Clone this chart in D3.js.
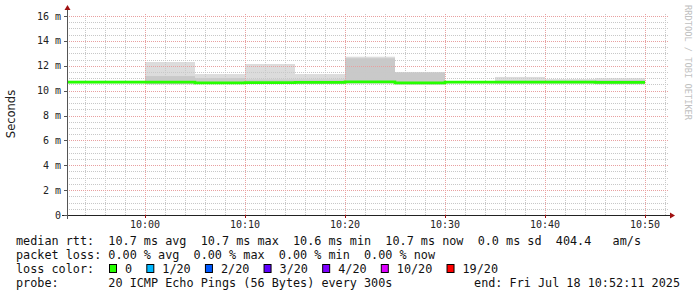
<!DOCTYPE html>
<html lang="en">
<head>
<meta charset="UTF-8">
<title>SmokePing</title>
<script src="https://d3js.org/d3.v7.min.js"></script>
<style>
  body { margin: 0; background: #fff; }
  svg text { font-family: "DejaVu Sans Mono", monospace; }
</style>
</head>
<body>
<div id="chart"></div>
<script>
// ping steps (5 min each), values in ms
const stepStart = ["09:50","09:55","10:00","10:05","10:10","10:15","10:20","10:25","10:30","10:35","10:40","10:45"];
const median    = [10.68, 10.68, 10.68, 10.62, 10.64, 10.66, 10.70, 10.62, 10.68, 10.68, 10.68, 10.66];
const smokeHi   = [10.80, 10.80, 12.30, 11.33, 12.14, 11.33, 12.73, 11.50, 10.75, 11.10, 10.93, 11.00];
const smokeMid  = [10.75, 10.75, 11.17, 11.00, 10.90, 10.90, 12.60, 11.45, 10.72, 10.80, 10.80, 10.85];
const smokeLo   = [10.60, 10.60, 10.52, 10.55, 10.55, 10.55, 10.58, 10.50, 10.60, 10.58, 10.58, 10.52];

const yTicks = [0, 2, 4, 6, 8, 10, 12, 14, 16];

const legendRtt  = "median rtt:  10.7 ms avg  10.7 ms max  10.6 ms min  10.7 ms now  0.0 ms sd  404.4   am/s";
const legendLoss = "packet loss: 0.00 % avg  0.00 % max  0.00 % min  0.00 % now";
const lossLabels = ["0", "1/20", "2/20", "3/20", "4/20", "10/20", "19/20"];
const lossColors = ["#26ff00", "#00b8ff", "#0059ff", "#5e00ff", "#7e00ff", "#dd00ff", "#ff0000"];
const probeText  = "probe:       20 ICMP Echo Pings (56 Bytes) every 300s";
const endText    = "end: Fri Jul 18 10:52:11 2025";

const W = 697, H = 297;
const pLeft = 67, pRight = 667, pTop = 16, pBottom = 215;

const parse = s => { const [h, m] = s.split(":").map(Number); return new Date(2025, 6, 18, h, m, 0); };
const steps = stepStart.map(parse);
const stepEnd = d => new Date(d.getTime() + 5 * 60 * 1000);

const x = d3.scaleTime()
    .domain([new Date(2025, 6, 18, 9, 52, 12), new Date(2025, 6, 18, 10, 52, 12)])
    .range([pLeft, pRight]);
const y = d3.scaleLinear().domain([0, 16]).range([pBottom, pTop]);

const svg = d3.select("#chart").append("svg")
    .attr("width", W).attr("height", H)
    .style("background", "#fff");

svg.append("clipPath").attr("id", "clip")
    .append("rect").attr("x", pLeft).attr("y", pTop).attr("width", pRight - pLeft).attr("height", pBottom - pTop);
const plot = svg.append("g");

// smoke
const smoke = plot.append("g").attr("clip-path", "url(#clip)");
steps.forEach((d, i) => {
    const x0 = x(d), x1 = x(stepEnd(d));
    smoke.append("rect")
        .attr("x", x0).attr("width", x1 - x0)
        .attr("y", y(smokeHi[i])).attr("height", y(smokeLo[i]) - y(smokeHi[i]))
        .attr("fill", "#dcdcdc");
    smoke.append("rect")
        .attr("x", x0).attr("width", x1 - x0)
        .attr("y", y(smokeMid[i])).attr("height", y(smokeLo[i]) - y(smokeMid[i]))
        .attr("fill", "#c9c9c9");
});

// grid
const grid = plot.append("g");
const minorY = d3.range(0, 16.01, 0.5).filter(v => v % 2 !== 0);
grid.selectAll(".hminor").data(minorY).join("line")
    .attr("x1", pLeft).attr("x2", pRight + 1)
    .attr("y1", d => Math.round(y(d)) + 0.5).attr("y2", d => Math.round(y(d)) + 0.5)
    .attr("stroke", "#c8c8c8").attr("stroke-dasharray", "1,1");
const minorX = x.ticks(d3.timeMinute.every(2)).filter(d => d.getMinutes() % 10 !== 0);
grid.selectAll(".vminor").data(minorX).join("line")
    .attr("x1", d => Math.round(x(d)) + 0.5).attr("x2", d => Math.round(x(d)) + 0.5)
    .attr("y1", pTop - 2).attr("y2", pBottom)
    .attr("stroke", "#c8c8c8").attr("stroke-dasharray", "1,1");
grid.selectAll(".hmajor").data(yTicks.slice(1)).join("line")
    .attr("x1", pLeft).attr("x2", pRight + 1)
    .attr("y1", d => Math.round(y(d)) + 0.5).attr("y2", d => Math.round(y(d)) + 0.5)
    .attr("stroke", "#e8a0a0").attr("stroke-dasharray", "1,1");
const majorX = x.ticks(d3.timeMinute.every(10));
grid.selectAll(".vmajor").data(majorX).join("line")
    .attr("x1", d => Math.round(x(d)) + 0.5).attr("x2", d => Math.round(x(d)) + 0.5)
    .attr("y1", pTop - 2).attr("y2", pBottom)
    .attr("stroke", "#e8a0a0").attr("stroke-dasharray", "1,1");

// median line
const medPts = steps.map((d, i) => [d, median[i]]);
medPts.push([stepEnd(steps[steps.length - 1]), median[median.length - 1]]);
plot.append("path")
    .attr("clip-path", "url(#clip)")
    .datum(medPts)
    .attr("d", d3.line().x(d => x(d[0])).y(d => y(d[1])).curve(d3.curveStepAfter))
    .attr("fill", "none")
    .attr("stroke", lossColors[0])
    .attr("stroke-width", 2.6);

// axes
const axis = svg.append("g");
axis.append("line")
    .attr("x1", pLeft - 5).attr("x2", pRight + 3)
    .attr("y1", pBottom + 0.5).attr("y2", pBottom + 0.5)
    .attr("stroke", "#222");
axis.append("line")
    .attr("x1", pLeft + 0.5).attr("x2", pLeft + 0.5)
    .attr("y1", pBottom + 4).attr("y2", pTop - 6)
    .attr("stroke", "#555");
axis.append("path")
    .attr("d", `M${pRight + 3},${pBottom - 2.5} L${pRight + 8},${pBottom + 0.5} L${pRight + 3},${pBottom + 3.5} Z`)
    .attr("fill", "#a01010");
axis.append("path")
    .attr("d", `M${pLeft - 2.5},${pTop - 6} L${pLeft + 0.5},${pTop - 11} L${pLeft + 3.5},${pTop - 6} Z`)
    .attr("fill", "#a01010");

// y ticks and labels
axis.selectAll(".ytick").data(yTicks).join("line")
    .attr("x1", pLeft - 3).attr("x2", pLeft)
    .attr("y1", d => Math.round(y(d)) + 0.5).attr("y2", d => Math.round(y(d)) + 0.5)
    .attr("stroke", "#555");
axis.selectAll(".ylab").data(yTicks).join("text")
    .attr("x", 61).attr("y", d => y(d) + 3.5)
    .attr("text-anchor", "end")
    .attr("font-size", 10)
    .attr("fill", "#222")
    .text(d => d === 0 ? "0" : d + " m");

// x ticks and labels
axis.selectAll(".xtick").data(majorX).join("line")
    .attr("x1", d => Math.round(x(d)) + 0.5).attr("x2", d => Math.round(x(d)) + 0.5)
    .attr("y1", pBottom).attr("y2", pBottom + 3)
    .attr("stroke", "#a01010");
axis.selectAll(".xlab").data(majorX).join("text")
    .attr("x", d => x(d)).attr("y", 228)
    .attr("text-anchor", "middle")
    .attr("font-size", 10)
    .attr("fill", "#222")
    .text(d3.timeFormat("%H:%M"));

// y title
svg.append("text")
    .attr("transform", "translate(15,114) rotate(-90)")
    .attr("text-anchor", "middle")
    .attr("font-size", 11.5)
    .style("font-family", "DejaVu Sans, sans-serif")
    .attr("fill", "#222")
    .text("Seconds");

// watermark
svg.append("text")
    .attr("transform", "translate(685,5) rotate(90)")
    .attr("font-size", 8.7)
    .attr("fill", "#c0c0c0")
    .text("RRDTOOL / TOBI OETIKER");

// legend
const fs = 11.8, cw = fs * 0.602, lx = 16;
const leg = svg.append("g").attr("font-size", fs).attr("fill", "#111");
leg.append("text").attr("x", lx).attr("y", 245).attr("xml:space", "preserve").text(legendRtt);
leg.append("text").attr("x", lx).attr("y", 259).attr("xml:space", "preserve").text(legendLoss);
leg.append("text").attr("x", lx).attr("y", 273).attr("xml:space", "preserve").text("loss color:");
let bx = 109;
lossLabels.forEach((l, i) => {
    leg.append("rect").attr("x", bx + 0.5).attr("y", 264.5).attr("width", 7).attr("height", 8)
        .attr("fill", lossColors[i]).attr("stroke", "#000");
    leg.append("text").attr("x", bx + 16).attr("y", 273).text(l);
    bx += 16 + (l.length + 2) * cw;
});
leg.append("text").attr("x", lx).attr("y", 287).attr("xml:space", "preserve").text(probeText);
leg.append("text").attr("x", 680).attr("y", 287).attr("text-anchor", "end").text(endText);
</script>
</body>
</html>
